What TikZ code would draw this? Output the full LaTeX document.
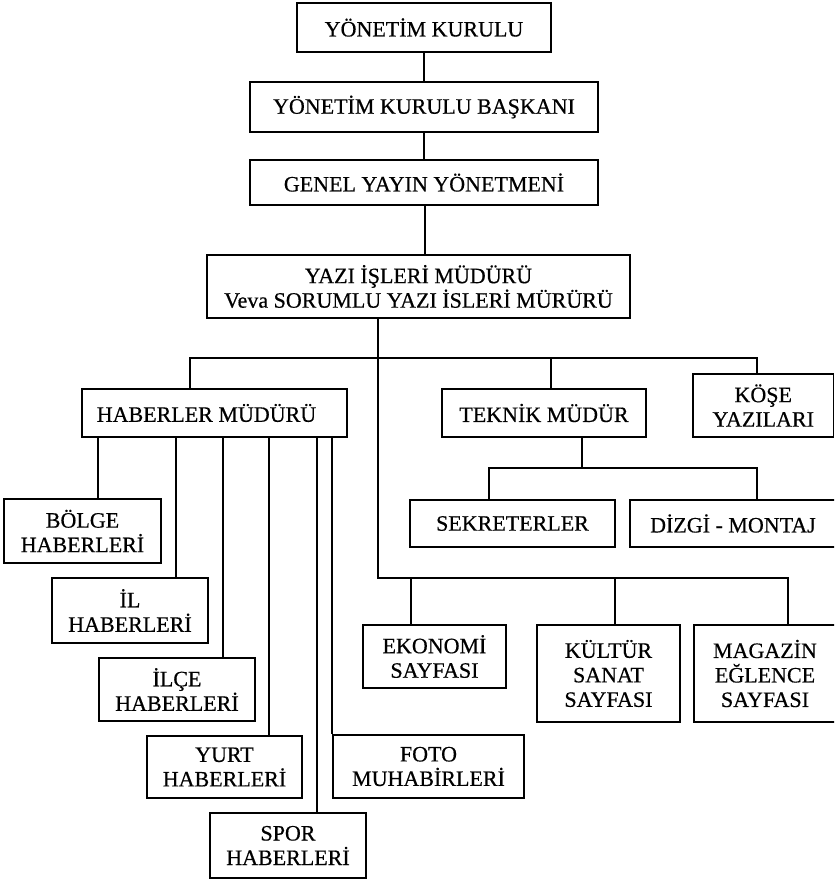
\documentclass[tikz,border=0pt]{standalone}
\usepackage{fontspec}
\setmainfont{Liberation Serif}
\newfontfamily\orgfont{Liberation Serif}[FakeBold=0.5]
\tikzset{
  orgbox/.style={draw, line width=1.6pt, align=center, inner sep=0pt,
    font=\orgfont\fontsize{22}{24.5}\selectfont},
  link/.style={line width=1.6pt}
}
\begin{document}
\begin{tikzpicture}[x=1pt,y=-1pt]
\useasboundingbox (0,0) rectangle (834,882);
\clip (0,0) rectangle (834,882);
% boxes
\node[orgbox, minimum width=254pt, minimum height=49pt] (kurul) at (424,27.5) {YÖNETİM KURULU};
\node[orgbox, minimum width=348pt, minimum height=50pt] (baskan) at (424,107) {YÖNETİM KURULU BAŞKANI};
\node[orgbox, minimum width=348pt, minimum height=45pt] (genel) at (424,182.5) {GENEL YAYIN YÖNETMENİ};
\node[orgbox, minimum width=423pt, minimum height=63pt] (yazi) at (418.5,286.5) {YAZI İŞLERİ MÜDÜRÜ\\Veva SORUMLU YAZI İSLERİ MÜRÜRÜ};
\node[orgbox, minimum width=265pt, minimum height=48pt] (haber) at (214.5,413) {HABERLER MÜDÜRÜ\hspace*{16pt}};
\node[orgbox, minimum width=204pt, minimum height=48pt] (teknik) at (544,413) {TEKNİK MÜDÜR};
\node[orgbox, minimum width=140.5pt, minimum height=63pt] (kose) at (763.25,405.5) {KÖŞE\\YAZILARI};
\node[orgbox, minimum width=205pt, minimum height=47pt] (sekr) at (512.5,523.5) {SEKRETERLER};
\node[orgbox, minimum width=206pt, minimum height=47pt] (dizgi) at (733,523.5) {DİZGİ - MONTAJ};
\node[orgbox, minimum width=157pt, minimum height=64pt] (bolge) at (82.5,531) {BÖLGE\\HABERLERİ};
\node[orgbox, minimum width=156pt, minimum height=65pt] (il) at (130,610.5) {İL\\HABERLERİ};
\node[orgbox, minimum width=156pt, minimum height=63pt] (ilce) at (177,689.5) {İLÇE\\HABERLERİ};
\node[orgbox, minimum width=155pt, minimum height=62pt] (yurt) at (224.5,767) {YURT\\HABERLERİ};
\node[orgbox, minimum width=156pt, minimum height=65pt] (spor) at (288,845.5) {SPOR\\HABERLERİ};
\node[orgbox, minimum width=191pt, minimum height=63pt] (foto) at (428.5,766.5) {FOTO\\MUHABİRLERİ};
\node[orgbox, minimum width=143pt, minimum height=63pt] (ekon) at (434.5,656.5) {EKONOMİ\\SAYFASI};
\node[orgbox, minimum width=143pt, minimum height=97pt] (kultur) at (608.5,673.5) {KÜLTÜR\\SANAT\\SAYFASI};
\node[orgbox, minimum width=142pt, minimum height=97pt] (magazin) at (765,673.5) {MAGAZİN\\EĞLENCE\\SAYFASI};
% helper coordinates
\coordinate (b1L) at (190,358);
\coordinate (b1R) at (757,358);
\coordinate (b1T) at (551,358);
\coordinate (vmain) at (378,578);
\coordinate (b2R) at (788,578);
\coordinate (b2E) at (411,578);
\coordinate (b2K) at (615,578);
\coordinate (tb) at (582,468);
\coordinate (tbL) at (489,468);
\coordinate (tbR) at (757,468);
\coordinate (d1) at (98,0);
\coordinate (d2) at (176,0);
\coordinate (d3) at (223,0);
\coordinate (d4) at (269,0);
\coordinate (d5) at (317,0);
% connectors
\draw[link] (kurul.south) -- (kurul.south |- baskan.north);
\draw[link] (baskan.south) -- (baskan.south |- genel.north);
\draw[link] ([xshift=1pt]genel.south) -- ([xshift=1pt]genel.south |- yazi.north);
\draw[link] (haber.north -| b1L) -- (b1L) -- (b1R) -- (b1R |- kose.north);
\draw[link] (b1T) -- (b1T |- teknik.north);
\draw[link] (yazi.south -| vmain) -- (vmain) -- (b2R) -- (b2R |- magazin.north);
\draw[link] (b2E) -- (b2E |- ekon.north);
\draw[link] (b2K) -- (b2K |- kultur.north);
\draw[link] (teknik.south -| tb) -- (tb);
\draw[link] (sekr.north -| tbL) -- (tbL) -- (tbR) -- (tbR |- dizgi.north);
\draw[link] (haber.south -| d1) -- (bolge.north -| d1);
\draw[link] (haber.south -| d2) -- (il.north -| d2);
\draw[link] (haber.south -| d3) -- (ilce.north -| d3);
\draw[link] (haber.south -| d4) -- (yurt.north -| d4);
\draw[link] (haber.south -| d5) -- (spor.north -| d5);
\draw[link] (haber.south -| foto.north west) -- (foto.north west);
\end{tikzpicture}
\end{document}
